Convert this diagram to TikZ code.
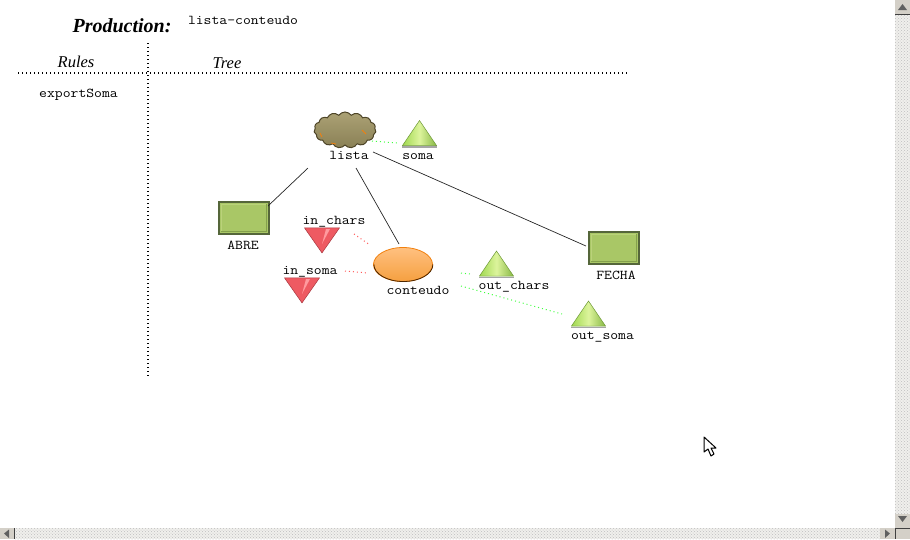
\documentclass[tikz,border=0pt]{standalone}
\usepackage{fontspec}
\setmainfont{Liberation Serif}
\setmonofont[FakeStretch=1.13]{Latin Modern Mono}
\usetikzlibrary{patterns}
\usetikzlibrary{shapes.geometric}
\usetikzlibrary{shapes.symbols}

\definecolor{leafgreen}{HTML}{A9C766}
\definecolor{leaflight}{HTML}{BAD27A}
\definecolor{leafshade}{HTML}{84A04C}
\definecolor{leafdark}{HTML}{55663A}
\definecolor{trigreen}{HTML}{A0D850}
\definecolor{trigreenl}{HTML}{DCF49C}
\definecolor{trigreend}{HTML}{6F9A38}
\definecolor{trired}{HTML}{EE5A62}
\definecolor{triredl}{HTML}{FF9A9E}
\definecolor{trired2}{HTML}{A83840}
\definecolor{cloudfill}{HTML}{A29765}
\definecolor{clouddark}{HTML}{4E4528}
\definecolor{orangetop}{HTML}{FFC080}
\definecolor{orangelow}{HTML}{F5A040}
\definecolor{barfill}{HTML}{D4D0C8}
\definecolor{bardark}{HTML}{404040}

\tikzset{
    lbl/.style={font=\ttfamily\fontsize{13.5}{14}\selectfont, inner sep=0pt, anchor=base},
    head/.style={font=\itshape\fontsize{16.5}{18}\selectfont, inner sep=0pt, anchor=base},
    leaf/.style={rectangle, minimum width=50pt, minimum height=32pt, inner sep=0pt,
        draw=leafdark, line width=2pt, fill=leafgreen,
        path picture={
            \begin{scope}[shift={(path picture bounding box.center)}]
                \draw[leafshade, line width=1pt] (-22.5,13.5) -- (22.5,13.5) -- (22.5,-13.5);
                \draw[leaflight, line width=1pt] (-22.5,13.5) -- (-22.5,-13.5) -- (22.5,-13.5);
            \end{scope}
        }},
    triup/.style={isosceles triangle, isosceles triangle stretches, shape border rotate=90,
        minimum width=34pt, minimum height=25pt, inner sep=0pt, draw=trigreend, line width=0.5pt,
        left color=trigreen, right color=trigreen!85!black, middle color=trigreenl,
        path picture={
            \begin{scope}[shift={(path picture bounding box.center)}]
                \fill[trigreend] (-17,13) -- (17,13) -- (13,9.5) -- (-13,9.5) -- cycle;
            \end{scope}
        }},
    tridown/.style={isosceles triangle, isosceles triangle stretches, shape border rotate=-90,
        minimum width=35pt, minimum height=25pt, inner sep=0pt, draw=trired2, line width=0.5pt, fill=trired,
        path picture={
            \begin{scope}[shift={(path picture bounding box.center)}]
                \fill[triredl] (0,7) -- (8,-8) -- (4,-8) -- cycle;
                \fill[trired2] (-17,-13) -- (17,-13) -- (13,-10.5) -- (-13,-10.5) -- cycle;
            \end{scope}
        }},
    trishadow/.style={gray!70, line width=1.5pt},
    treeline/.style={line width=0.7pt, black!85},
    outlink/.style={green!75!white, line width=1pt, dash pattern=on 1pt off 3pt},
    inlink/.style={red!65!white, line width=1pt, dash pattern=on 1pt off 3pt},
    rule/.style={black, line width=1.3pt, dash pattern=on 1.3pt off 2.7pt},
    bar/.style={fill=barfill, draw=none},
    chk/.style={preaction={fill=barfill!35!white}, pattern=crosshatch dots, pattern color=gray!50, draw=none}
}

\begin{document}
\begin{tikzpicture}[x=1pt,y=-1pt]
    \useasboundingbox (0,0) rectangle (910,539);

    % header
    \node[font=\bfseries\itshape\fontsize{20}{20}\selectfont, inner sep=0pt, anchor=base] (title) at (122,32) {Production:};
    \node[lbl] (prod) at (243,24) {lista-conteudo};
    \node[head] (rules) at (76,67) {Rules};
    \node[head] (tree) at (227,68) {Tree};
    \node[lbl] (export) at (78.5,97) {exportSoma};
    \draw[rule] (18,73) -- (628,73);
    \draw[rule] (148,43) -- (148,376);

    % tree
    \node[cloud, cloud puffs=15, cloud puff arc=110, aspect=1.7, minimum width=62pt, minimum height=36pt,
        inner sep=0pt, draw=clouddark, line width=1pt, top color=cloudfill!90!white, bottom color=cloudfill!85!black] (lista) at (345,130) {};
    \draw[orange!80!brown, line width=0.8pt] (362,130) -- (366,134);
    \draw[orange!80!brown, line width=0.8pt] (331,143) -- (336,144);
    \draw[orange!80!brown, line width=0.8pt] (320,133) -- (322,137);
    \node[lbl] (tlista) at (349,159) {lista};

    \node[triup] (soma) at (419.5,136.5) {};
    \draw[trishadow] ([yshift=-1.2pt]soma.left corner) -- ([yshift=-1.2pt]soma.right corner);
    \node[lbl] (tsoma) at (418,159) {soma};

    \node[leaf] (abre) at (243.5,217.5) {};
    \node[lbl] (tabre) at (243,249) {ABRE};
    \node[leaf] (fecha) at (613.5,247.5) {};
    \node[lbl] (tfecha) at (616,279) {FECHA};

    \node[ellipse, minimum width=59pt, minimum height=34pt, inner sep=0pt, draw=orange!80!brown, line width=0.8pt,
        top color=orangetop, bottom color=orangelow] (cont) at (403,264.5) {};
    \draw[black!70!orange, line width=0.8pt] (cont.east) arc (0:180:29.5 and 17);
    \node[lbl] (tcont) at (418,294) {conteudo};

    \node[tridown] (inchars) at (322,237) {};
    \node[lbl] (tinchars) at (334,224) {in\_chars};
    \node[tridown] (insoma) at (302,287) {};
    \node[lbl] (tinsoma) at (310,274) {in\_soma};

    \node[triup] (outchars) at (496.5,267) {};
    \draw[trishadow] ([yshift=-1.2pt]outchars.left corner) -- ([yshift=-1.2pt]outchars.right corner);
    \node[lbl] (toutchars) at (514,289) {out\_chars};
    \node[triup] (outsoma) at (588.5,317) {};
    \draw[trishadow] ([yshift=-1.2pt]outsoma.left corner) -- ([yshift=-1.2pt]outsoma.right corner);
    \node[lbl] (toutsoma) at (602.5,339) {out\_soma};

    % connector ends
    \coordinate (a1) at (308,168);
    \coordinate (a2) at (268,206);
    \coordinate (b1) at (356,168);
    \coordinate (b2) at (399,244);
    \coordinate (c1) at (373,152);
    \coordinate (c2) at (586,246);
    \coordinate (d1) at (372,141);
    \coordinate (d2) at (397,143);
    \coordinate (e1) at (354,234);
    \coordinate (e2) at (370,245);
    \coordinate (f1) at (345,271);
    \coordinate (f2) at (368,273);
    \coordinate (g1) at (461,273);
    \coordinate (g2) at (470,274);
    \coordinate (h1) at (461,286);
    \coordinate (h2) at (562,314);

    \draw[treeline] (a1) -- (a2);
    \draw[treeline] (b1) -- (b2);
    \draw[treeline] (c1) -- (c2);
    \draw[outlink] (d1) -- (d2);
    \draw[inlink] (e1) -- (e2);
    \draw[inlink] (f1) -- (f2);
    \draw[outlink] (g1) -- (g2);
    \draw[outlink] (h1) -- (h2);

    % cursor
    \draw[fill=white, line width=1pt, line join=round] (704,437) -- (704,452) -- (708,449) -- (711,456) -- (714,454) -- (711,448) -- (716,448) -- cycle;

    % scrollbars
    \fill[white] (895,0) rectangle (910,528);
    \fill[chk] (895,14) rectangle (910,514);
    \fill[bar] (895,0) rectangle (910,14);
    \fill[bar] (895,514) rectangle (910,528);
    \fill[white] (0,528) rectangle (895,539);
    \fill[chk] (15,528) rectangle (880,539);
    \fill[bar] (0,528) rectangle (14,539);
    \fill[bar] (880,528) rectangle (895,539);
    \fill[bar] (895,528) rectangle (910,539);
    \draw[bardark, line width=1pt] (895,14.5) -- (910,14.5);
    \draw[bardark, line width=1pt] (14.5,528) -- (14.5,539);
    \draw[bardark, line width=1pt] (895,528) -- (910,528);
    \draw[bardark, line width=1pt] (895,528) -- (895,539);
    \fill[gray!75!black] (902.5,4) -- (898,10) -- (907,10) -- cycle;
    \fill[gray!75!black] (902.5,522) -- (898,516) -- (907,516) -- cycle;
    \fill[gray!75!black] (4,533.5) -- (9,529.5) -- (9,538) -- cycle;
    \fill[gray!75!black] (890,533.5) -- (885,529.5) -- (885,538) -- cycle;
\end{tikzpicture}
\end{document}
